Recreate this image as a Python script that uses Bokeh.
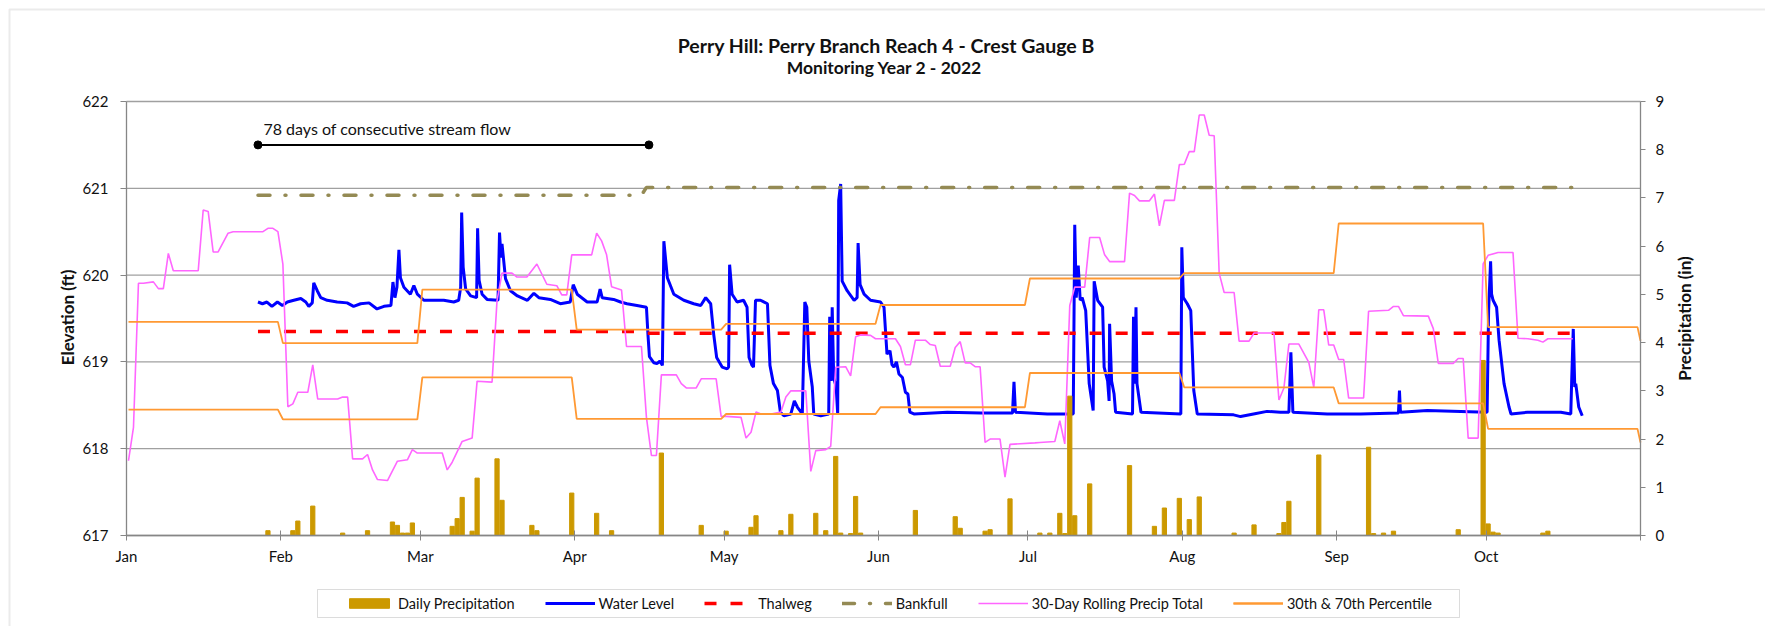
import math
import pandas as pd
from bokeh.plotting import figure
from bokeh.models import (Range1d, LinearAxis, FixedTicker, Legend, LegendItem,
                          Label, BoxAnnotation)
from bokeh.embed import file_html
from bokeh.resources import INLINE

# ---------------------------------------------------------------- data
title_text = "Perry Hill: Perry Branch Reach 4 - Crest Gauge B"
subtitle_text = "Monitoring Year 2 - 2022"
left_title = "Elevation (ft)"
right_title = "Precipitation (in)"
month_labels = ["Jan", "Feb", "Mar", "Apr", "May", "Jun", "Jul", "Aug", "Sep", "Oct"]
elev_ticks = [617, 618, 619, 620, 621, 622]
precip_ticks = [0, 1, 2, 3, 4, 5, 6, 7, 8, 9]

# day index = days since 2022-01-01
# 30th / 70th percentile of 30-day precipitation, Jan..Nov (in)
pct70_in = [4.43, 3.99, 5.10, 4.27, 4.39, 4.78, 5.33, 5.44, 6.47, 4.32, 4.04]
pct30_in = [2.61, 2.41, 3.28, 2.42, 2.52, 2.66, 3.37, 3.07, 2.74, 2.21, 1.93]

# daily precipitation (in)
precip_day = [28, 33, 34, 37, 43, 48, 53, 54, 55, 56, 57, 65, 66, 67, 69, 70, 74, 75,
              81, 82, 89, 94, 97, 107, 115, 120, 125, 126, 131, 133, 138, 140, 142,
              143, 145, 146, 147, 158, 166, 167, 172, 173, 177, 183, 185, 187, 188,
              189, 190, 193, 201, 206, 208, 211, 213, 215, 222, 226, 231, 232, 233,
              239, 249, 250, 252, 254, 267, 272, 273, 274, 275, 284, 285]
precip_in = [0.10, 0.10, 0.30, 0.61, 0.05, 0.10, 0.28, 0.21, 0.05, 0.05, 0.26, 0.19,
             0.35, 0.79, 0.09, 1.19, 1.59, 0.73, 0.21, 0.10, 0.88, 0.46, 0.10, 1.71,
             0.21, 0.09, 0.17, 0.41, 0.10, 0.44, 0.46, 0.10, 1.64, 0.05, 0.04, 0.81,
             0.05, 0.52, 0.39, 0.15, 0.09, 0.12, 0.76, 0.05, 0.05, 0.46, 0.04, 2.89,
             0.41, 1.07, 1.45, 0.19, 0.57, 0.77, 0.33, 0.80, 0.05, 0.22, 0.04, 0.27,
             0.71, 1.67, 1.83, 0.04, 0.05, 0.09, 0.12, 3.63, 0.24, 0.07, 0.05, 0.05,
             0.09]

# 30-day rolling precipitation total (in)
rp_day = [0, 1, 2, 3, 5, 6, 7, 8, 9, 14, 15, 16, 17, 18, 20, 21, 27, 28, 29, 30,
          31, 32, 33, 34, 36, 37, 38, 42, 43, 44, 45, 47, 48, 49, 50, 52, 54, 56,
          57, 58, 63, 64, 65, 67, 69, 70, 73, 74, 75, 77, 78, 80, 82, 84, 86, 87,
          88, 89, 93, 94, 95, 96, 97, 99, 100, 103, 104, 105, 106, 107, 110, 111,
          112, 114, 115, 118, 119, 120, 123, 124, 125, 126, 127, 129, 131, 132,
          133, 136, 137, 138, 140, 141, 142, 144, 145, 146, 147, 149, 150, 154,
          155, 156, 157, 158, 160, 161, 162, 163, 165, 166, 167, 168, 169, 170,
          171, 172, 173, 175, 176, 177, 182, 183, 186, 187, 188, 189, 190, 192,
          193, 195, 196, 197, 200, 201, 202, 203, 205, 206, 207, 208, 210, 211,
          212, 213, 214, 215, 216, 217, 218, 219, 220, 222, 223, 225, 226, 230,
          231, 232, 233, 235, 237, 238, 239, 240, 241, 242, 243, 244, 245, 248,
          249, 253, 254, 255, 256, 261, 262, 263, 266, 267, 268, 269, 271, 272,
          273, 275, 278, 279, 281, 283, 284, 285, 290]
rp_in = [1.55, 2.24, 5.23, 5.23, 5.26, 5.12, 5.12, 5.85, 5.49, 5.49, 6.75, 6.72,
         5.88, 5.88, 6.27, 6.30, 6.30, 6.37, 6.37, 6.30, 5.63, 2.67, 2.73, 2.97,
         2.97, 3.54, 2.83, 2.83, 2.87, 2.87, 1.59, 1.59, 1.68, 1.36, 1.16, 1.14,
         1.54, 1.57, 1.78, 1.71, 1.71, 1.36, 1.52, 1.95, 2.02, 3.20, 3.18, 4.87,
         5.44, 5.44, 5.36, 5.36, 5.63, 5.21, 5.18, 4.99, 4.99, 5.82, 5.82, 6.27,
         6.11, 5.82, 5.16, 5.09, 3.92, 3.92, 2.45, 1.66, 1.66, 3.33, 3.33, 3.15,
         3.06, 3.06, 3.25, 3.25, 2.47, 2.47, 2.45, 2.02, 2.14, 2.56, 2.52, 2.52,
         2.56, 2.87, 3.00, 3.00, 1.33, 1.76, 1.78, 1.85, 3.49, 3.50, 3.31, 4.12,
         4.16, 4.15, 4.08, 4.08, 3.92, 3.54, 3.54, 4.05, 4.05, 3.96, 3.94, 3.51,
         3.51, 3.90, 4.02, 3.58, 3.58, 3.50, 3.50, 1.93, 2.00, 2.00, 1.21, 1.89,
         1.92, 1.93, 1.95, 2.38, 1.90, 4.77, 5.15, 5.15, 6.18, 6.18, 5.82, 5.68,
         5.68, 7.10, 7.05, 6.94, 6.94, 7.08, 6.42, 6.95, 6.95, 7.69, 7.70, 7.96,
         7.96, 8.72, 8.72, 8.30, 8.29, 5.44, 5.04, 5.04, 4.03, 4.03, 4.20, 4.20,
         2.81, 3.06, 3.97, 3.97, 3.59, 3.07, 4.68, 4.68, 3.95, 3.95, 3.65, 3.65,
         2.85, 2.85, 4.65, 4.67, 4.75, 4.75, 4.56, 4.55, 4.29, 3.57, 3.57, 3.67,
         3.67, 2.02, 2.02, 5.63, 5.81, 5.87, 5.87, 4.09, 4.08, 4.05, 4.01, 4.08,
         4.08]

# water level (ft), logger time in days since 2022-01-01
wl_day = [26.4, 27.3, 28.2, 29.2, 30.3, 31.3, 32.3, 33.6, 35.0, 36.0, 36.6, 37.3,
          37.6, 38.3, 39.0, 40.3, 42.3, 44.3, 45.6, 47.0, 48.7, 50.3, 51.7, 53.1,
          53.5, 53.9, 54.3, 54.7, 55.0, 55.7, 57.0, 57.7, 58.4, 59.7, 61.7, 63.7,
          65.7, 66.7, 67.1, 67.3, 67.6, 68.1, 69.1, 70.3, 70.5, 70.8, 71.4, 72.4,
          74.6, 74.9, 75.2, 75.4, 76.1, 77.1, 78.5, 80.5, 81.8, 82.8, 85.1, 87.1,
          89.1, 89.7, 90.5, 92.5, 94.5, 95.1, 95.5, 97.8, 99.2, 100.5, 102.5,
          104.4, 104.7, 105.0, 105.9, 106.5, 107.1, 107.6, 107.9, 108.6, 109.9,
          111.9, 113.9, 115.3, 116.3, 117.3, 117.9, 118.5, 119.6, 120.6, 120.9,
          121.1, 121.6, 122.6, 123.9, 124.6, 125.0, 125.6, 125.9, 126.3, 127.3,
          128.7, 129.2, 129.9, 130.7, 131.3, 132.0, 133.4, 134.1, 134.7, 135.7,
          136.2, 136.6, 137.0, 137.7, 138.0, 139.4, 141.0, 141.2, 141.5, 141.7,
          142.0, 142.5, 142.8, 143.0, 143.4, 143.7, 144.7, 146.1, 146.7, 146.9,
          147.3, 148.1, 149.4, 151.4, 152.1, 152.7, 153.3, 153.7, 154.1, 154.6,
          155.1, 155.8, 156.4, 156.9, 157.3, 158.1, 164.8, 171.5, 177.9, 178.2,
          178.5, 184.9, 190.1, 190.4, 190.7, 191.1, 191.5, 191.9, 192.6, 193.3,
          194.1, 194.3, 195.0, 196.0, 196.3, 197.0, 197.3, 197.4, 197.8, 198.3,
          198.6, 202.0, 202.2, 202.4, 202.7, 202.9, 203.7, 211.7, 211.9, 212.2,
          213.0, 213.7, 214.3, 215.0, 222.3, 223.7, 226.3, 229.0, 231.7, 233.4,
          233.8, 234.2, 241.1, 247.8, 255.4, 255.6, 255.8, 261.2, 267.9, 273.2,
          273.5, 273.9, 274.1, 274.4, 275.1, 275.6, 276.6, 277.6, 278.0, 281.3,
          288.0, 290.0, 290.2, 290.5, 290.8, 291.0, 291.6, 292.3]
wl_ft = [619.69, 619.67, 619.69, 619.64, 619.69, 619.65, 619.69, 619.71, 619.73,
         619.69, 619.64, 619.68, 619.91, 619.82, 619.74, 619.71, 619.69, 619.68,
         619.64, 619.67, 619.68, 619.61, 619.64, 619.65, 619.92, 619.74, 619.86,
         620.29, 619.97, 619.86, 619.78, 619.88, 619.78, 619.71, 619.71, 619.71,
         619.69, 619.71, 619.86, 620.72, 620.09, 619.84, 619.76, 619.74, 620.54,
         619.94, 619.78, 619.72, 619.71, 620.49, 620.20, 620.36, 619.96, 619.82,
         619.76, 619.71, 619.79, 619.74, 619.72, 619.67, 619.69, 619.89, 619.78,
         619.69, 619.69, 619.84, 619.74, 619.72, 619.69, 619.67, 619.65, 619.63,
         619.32, 619.06, 618.99, 618.98, 619.01, 618.96, 620.39, 619.97, 619.78,
         619.71, 619.67, 619.65, 619.74, 619.67, 619.32, 619.05, 618.94, 618.92,
         618.94, 620.12, 619.78, 619.69, 619.71, 619.63, 619.05, 618.96, 618.94,
         619.71, 619.71, 619.67, 618.96, 618.75, 618.67, 618.42, 618.38, 618.40,
         618.55, 618.48, 618.40, 619.69, 619.63, 619.01, 618.71, 618.40, 618.38,
         618.40, 619.52, 618.78, 619.63, 618.82, 618.71, 618.40, 620.86, 621.05,
         619.93, 619.82, 619.71, 619.74, 620.37, 619.89, 619.78, 619.71, 619.69,
         619.63, 619.09, 619.13, 618.97, 618.94, 619.00, 618.86, 618.82, 618.65,
         618.63, 618.42, 618.40, 618.42, 618.41, 618.41, 618.77, 618.42, 618.40,
         618.40, 620.58, 619.74, 620.11, 619.71, 619.74, 619.59, 618.75, 618.44,
         619.93, 619.71, 619.63, 618.94, 618.78, 618.55, 619.44, 618.78, 618.63,
         618.42, 618.40, 619.52, 618.75, 619.63, 618.75, 618.42, 618.40, 620.32,
         619.74, 619.67, 619.59, 618.67, 618.40, 618.39, 618.37, 618.40, 618.43,
         618.42, 618.42, 619.11, 618.42, 618.40, 618.40, 618.41, 618.67, 618.42,
         618.44, 618.43, 618.42, 619.59, 620.16, 619.78, 619.71, 619.63, 619.25,
         618.75, 618.48, 618.40, 618.42, 618.42, 618.40, 618.82, 619.38, 618.71,
         618.75, 618.48, 618.38]

# reference elevations (ft)
thalweg_day = [26, 103, 104, 291]
thalweg_ft = [619.35, 619.35, 619.33, 619.33]
bankfull_day = [26, 103, 104, 291]
bankfull_ft = [620.92, 620.92, 621.01, 621.01]

# annotation: consecutive stream flow period
flow_start_day = 26.4
flow_end_day = 104.9
flow_level_ft = 621.5
flow_text = "78 days of consecutive stream flow"

# ---------------------------------------------------------------- layout constants
DAY_CENTER = 0.4   # daily values sit near the middle of their day slot
FONT = "Lato"
TXT = "#111111"
W, H = 1765, 626
PX_L, PX_R = 126, 1640          # pixel columns of the plot area edges
PX_T, PX_B = 101, 535           # pixel rows of 622 ft and 617 ft

year0 = pd.Timestamp(2022, 1, 1)
month_start = [(pd.Timestamp(2022, m, 1) - year0).days for m in range(1, 13)]
month_start.append((pd.Timestamp(2023, 1, 1) - year0).days)
X0, X1 = 0, month_start[10]     # Jan 1 .. Nov 1

px_per_day = (PX_R - PX_L) / (X1 - X0)
px_per_ft = (PX_B - PX_T) / 5.0
x_lo = X0 - PX_L / px_per_day
x_hi = X1 + (W - PX_R) / px_per_day
ft_hi = 622 + PX_T / px_per_ft
ft_lo = 617 - (H - PX_B) / px_per_ft
in_per_ft = 9 / 5.0

def step_series(vals):
    """monthly constant values drawn as daily points, stopped at the axis end"""
    xs, ys = [], []
    for m, v in enumerate(vals):
        a = min(month_start[m] + DAY_CENTER, X1)
        b = min(month_start[m + 1] - 1 + DAY_CENTER, X1)
        xs += [a, b]
        ys += [v, v]
    return xs, ys

p70_x, p70_y = step_series(pct70_in)
p30_x, p30_y = step_series(pct30_in)

# ---------------------------------------------------------------- figure
p = figure(width=W, height=H, title=None,
           x_range=Range1d(x_lo, x_hi), y_range=Range1d(ft_lo, ft_hi),
           output_backend="svg", toolbar_location=None,
           min_border_left=0, min_border_right=0,
           min_border_top=0, min_border_bottom=0)
p.extra_y_ranges = {"precip": Range1d((ft_lo - 617) * in_per_ft, (ft_hi - 617) * in_per_ft)}
p.outline_line_color = None
p.background_fill_color = "white"
p.border_fill_color = "white"

axis_col = "#868686"
grid_col = "#a0a0a0"

p.xgrid.visible = False
p.ygrid.visible = False
# horizontal gridlines across the plot area only
p.segment(x0=[X0] * len(elev_ticks), x1=[X1] * len(elev_ticks),
          y0=elev_ticks, y1=elev_ticks, line_color=grid_col, line_width=1.3)

xa = p.xaxis[0]
xa.fixed_location = 617
xa.bounds = (X0, X1)
xa.ticker = FixedTicker(ticks=month_start[:11])
xa.major_label_overrides = {month_start[i]: month_labels[i] for i in range(10)}
xa.major_label_overrides[month_start[10]] = ""
xa.major_tick_in = 5
xa.major_tick_out = 5
xa.minor_tick_line_color = None
xa.major_label_standoff = 6
xa.axis_line_color = axis_col
xa.axis_line_width = 1.3
xa.major_tick_line_color = axis_col
xa.major_label_text_font = FONT
xa.major_label_text_font_size = "15px"
xa.major_label_text_color = TXT

ya = p.yaxis[0]
ya.fixed_location = X0
ya.bounds = (617, 622)
ya.ticker = FixedTicker(ticks=elev_ticks)
ya.major_tick_in = 0
ya.major_tick_out = 6
ya.minor_tick_line_color = None
ya.major_label_standoff = 12
ya.axis_line_color = axis_col
ya.axis_line_width = 1.3
ya.major_tick_line_color = axis_col
ya.major_label_text_font = FONT
ya.major_label_text_font_size = "15px"
ya.major_label_text_color = TXT

ra = LinearAxis(y_range_name="precip", ticker=FixedTicker(ticks=precip_ticks),
                bounds=(0, 9), fixed_location=X1)
ra.major_tick_in = 0
ra.major_tick_out = 5
ra.minor_tick_line_color = None
ra.major_label_standoff = 10
ra.axis_line_color = axis_col
ra.axis_line_width = 1.3
ra.major_tick_line_color = axis_col
ra.major_label_text_font = FONT
ra.major_label_text_font_size = "15px"
ra.major_label_text_color = TXT
p.add_layout(ra, "right")

# ---------------------------------------------------------------- series
r_wl = p.line(wl_day, wl_ft, line_color="#0000ff", line_width=3)
r_th = p.line([d + DAY_CENTER for d in thalweg_day], thalweg_ft,
              line_color="#ff0000", line_width=3.5, line_dash="12 14")
r_bf = p.line([d + DAY_CENTER for d in bankfull_day], bankfull_ft,
              line_color="#948a54", line_width=3.5, line_dash="12 15 1 15",
              line_cap="round")
r_pr = p.vbar(x=[d + DAY_CENTER for d in precip_day], top=precip_in, bottom=0,
              width=0.85, y_range_name="precip",
              fill_color="#cc9900", line_color="#cc9900")
r_rp = p.line([d + DAY_CENTER for d in rp_day], rp_in, y_range_name="precip",
              line_color="#ff66ff", line_width=1.6)
r_p70 = p.line(p70_x, p70_y, y_range_name="precip", line_color="#ff9933", line_width=1.8)
r_p30 = p.line(p30_x, p30_y, y_range_name="precip", line_color="#ff9933", line_width=1.8)

# annotation: flow period
p.line([flow_start_day, flow_end_day], [flow_level_ft, flow_level_ft],
       line_color="black", line_width=2)
p.scatter([flow_start_day, flow_end_day], [flow_level_ft, flow_level_ft],
          size=8, fill_color="black", line_color="black")
p.add_layout(Label(x=flow_start_day + 1.1, y=flow_level_ft, x_units="data", y_units="data",
                   text=flow_text, text_font=FONT, text_font_size="16px",
                   text_color=TXT, text_baseline="bottom", y_offset=7))

# ---------------------------------------------------------------- titles
def screen_label(px, py, text, size, bold=True, angle=0.0):
    return Label(x=px, y=H - py, x_units="screen", y_units="screen", text=text,
                 text_font=FONT, text_font_style="bold" if bold else "normal",
                 text_font_size=size, text_align="center", text_baseline="middle",
                 text_color=TXT, angle=angle)

p.add_layout(screen_label(886, 45, title_text, "19.5px"))
p.add_layout(screen_label(884, 67, subtitle_text, "17.5px"))
p.add_layout(screen_label(67, 317, left_title, "17px", angle=math.pi / 2))
p.add_layout(screen_label(1684, 318, right_title, "17px", angle=math.pi / 2))

# ---------------------------------------------------------------- chart / legend frames
p.add_layout(BoxAnnotation(left=9, right=W + 50, top=9, bottom=H + 50,
                           left_units="canvas", right_units="canvas",
                           top_units="canvas", bottom_units="canvas",
                           fill_alpha=0, line_color="#bdbdbd", line_width=2))
p.add_layout(BoxAnnotation(left=317, right=1459, top=589, bottom=617,
                           left_units="canvas", right_units="canvas",
                           top_units="canvas", bottom_units="canvas",
                           fill_alpha=0, line_color="#8c8c8c", line_width=1))
legend = Legend(items=[
    LegendItem(label="Daily Precipitation", renderers=[r_pr]),
    LegendItem(label="Water Level", renderers=[r_wl]),
    LegendItem(label="Thalweg", renderers=[r_th]),
    LegendItem(label="Bankfull", renderers=[r_bf]),
    LegendItem(label="30-Day Rolling Precip Total", renderers=[r_rp]),
    LegendItem(label="30th & 70th Percentile", renderers=[r_p70, r_p30]),
], orientation="horizontal", location=(338, H - 617.5))
legend.padding = 6
legend.spacing = 30
legend.glyph_width = 50
legend.glyph_height = 12
legend.label_standoff = 4
legend.label_text_font = FONT
legend.label_text_font_size = "14.5px"
legend.label_text_color = TXT
legend.border_line_alpha = 0
legend.background_fill_alpha = 0
p.add_layout(legend)

open("out.html", "w").write(file_html(p, INLINE))
